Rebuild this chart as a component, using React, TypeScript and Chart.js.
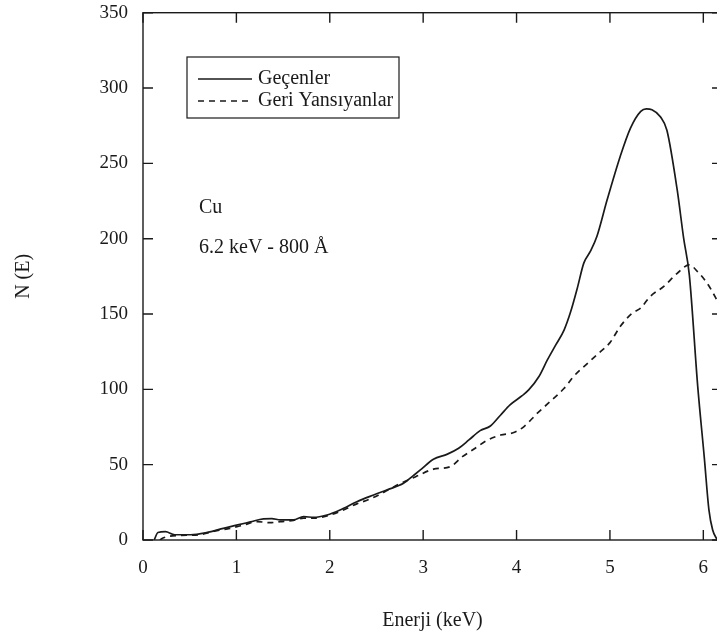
import React, { useEffect, useRef } from "react";
import { Chart, registerables } from "chart.js";

Chart.register(...registerables);

// ---- data ----
const X_TICKS = [0, 1, 2, 3, 4, 5, 6];
const Y_TICKS = [0, 50, 100, 150, 200, 250, 300, 350];
const SERIES_NAMES = ["Geçenler", "Geri Yansıyanlar"];
const X_TITLE = "Enerji (keV)";
const Y_TITLE = "N (E)";
const NOTES = ["Cu", "6.2 keV - 800 Å"];

const GECENLER_E = [
  0.12, 0.16, 0.24, 0.34, 0.51, 0.68, 0.86, 0.99, 1.15, 1.29, 1.38, 1.47, 1.61,
  1.72, 1.83, 1.97, 2.11, 2.29, 2.47, 2.61, 2.79, 2.9, 2.97, 3.11, 3.26, 3.38,
  3.49, 3.61, 3.72, 3.83, 3.93, 4.06, 4.13, 4.24, 4.33, 4.42, 4.51, 4.58, 4.65,
  4.72, 4.79, 4.86, 4.97, 5.11, 5.22, 5.33, 5.39, 5.45, 5.54, 5.61, 5.72, 5.79,
  5.85, 5.94, 6.01, 6.06, 6.1, 6.15,
];
const GECENLER_N = [
  0, 5, 5.5, 3.5, 3.5, 4.9, 7.7, 9.7, 12, 14, 14.2, 13.3, 13.3,
  15.5, 15, 16.6, 19.9, 25.4, 29.9, 33.2, 37.6, 43, 46.5, 53.6, 57, 60.9,
  66.4, 72.6, 75.7, 83, 89.7, 95.8, 99.6, 108.5, 119.5, 129.5, 139.5, 151.6, 167,
  183.8, 191.5, 201.4, 225.8, 254.6, 273.4, 284.5, 286.2, 285.6, 281, 272, 232.5, 200,
  176, 102, 55, 20, 6.6, 0,
];

const GERI_E = [
  0.18, 0.22, 0.4, 0.6, 0.79, 0.93, 1.08, 1.22, 1.36, 1.47, 1.61, 1.72, 1.83,
  1.97, 2.11, 2.29, 2.43, 2.58, 2.74, 2.92, 3.11, 3.29, 3.42, 3.54, 3.68, 3.83,
  3.97, 4.08, 4.22, 4.36, 4.51, 4.61, 4.76, 4.88, 5.0, 5.11, 5.24, 5.33, 5.43,
  5.58, 5.72, 5.85, 5.94, 6.04, 6.13, 6.2,
];
const GERI_N = [
  0, 1.5, 3, 3.5, 6.2, 7.7, 10, 12.2, 11.5, 12.2, 13, 14.5, 14.5,
  16, 19, 24, 27.2, 31.7, 37, 42, 47, 48.7, 55.3, 60.2, 66, 69.7,
  71.3, 75.3, 84, 91.9, 100.7, 108.5, 117.3, 124, 131, 141.7, 150.6, 154, 161.6,
  168.5, 177, 182.6, 178, 170.5, 161, 152,
];

const FONT = "'Liberation Serif', 'Times New Roman', serif";
const INK = "#1a1a1a";

const framePlugin = {
  id: "frame",
  afterDatasetsDraw(chart: any) {
    const { ctx, chartArea } = chart;
    const { left, right, top, bottom } = chartArea;
    const xs = chart.scales.x;
    const ys = chart.scales.y;
    const tl = 10;
    ctx.save();
    ctx.strokeStyle = INK;
    ctx.lineWidth = 1.4;
    ctx.setLineDash([]);
    ctx.strokeRect(left, top, right - left, bottom - top);
    ctx.beginPath();
    X_TICKS.forEach((v) => {
      const px = xs.getPixelForValue(v);
      ctx.moveTo(px, bottom);
      ctx.lineTo(px, bottom - tl);
      ctx.moveTo(px, top);
      ctx.lineTo(px, top + tl);
    });
    Y_TICKS.forEach((v) => {
      const py = ys.getPixelForValue(v);
      ctx.moveTo(left, py);
      ctx.lineTo(left + tl, py);
      ctx.moveTo(right, py);
      ctx.lineTo(right - tl, py);
    });
    ctx.stroke();
    ctx.restore();
  },
  afterDraw(chart: any) {
    const { ctx, chartArea } = chart;
    const { left, top } = chartArea;
    ctx.save();
    // legend box
    const bx = left + 44;
    const by = top + 44.3;
    const bw = 212;
    const bh = 61;
    ctx.fillStyle = "#ffffff";
    ctx.fillRect(bx, by, bw, bh);
    ctx.strokeStyle = INK;
    ctx.lineWidth = 1.2;
    ctx.setLineDash([]);
    ctx.strokeRect(bx, by, bw, bh);
    ctx.font = `20px ${FONT}`;
    ctx.fillStyle = INK;
    ctx.textBaseline = "middle";
    ctx.textAlign = "left";
    chart.data.datasets.forEach((ds: any, i: number) => {
      const y = by + 22 + i * 22;
      ctx.beginPath();
      ctx.lineWidth = 1.3;
      ctx.setLineDash(ds.borderDash || []);
      ctx.moveTo(bx + 11, y);
      ctx.lineTo(bx + 65, y);
      ctx.stroke();
      ctx.setLineDash([]);
      ctx.fillText(ds.label, bx + 71, y);
    });
    // annotations
    ctx.fillText(NOTES[0], left + 56, top + 195.5);
    ctx.fillText(NOTES[1], left + 56, top + 235.5);
    ctx.restore();
  },
};

export default function App() {
  const ref = useRef<HTMLCanvasElement | null>(null);
  useEffect(() => {
    if (!ref.current) return;
    const chart = new Chart(ref.current, {
      type: "line",
      data: {
        datasets: [
          {
            label: SERIES_NAMES[0],
            data: GECENLER_E.map((e, i) => ({ x: e, y: GECENLER_N[i] })),
            borderColor: INK,
            borderWidth: 1.7,
            pointRadius: 0,
            cubicInterpolationMode: "monotone",
            fill: false,
          },
          {
            label: SERIES_NAMES[1],
            data: GERI_E.map((e, i) => ({ x: e, y: GERI_N[i] })),
            borderColor: INK,
            borderWidth: 1.7,
            borderDash: [6, 5],
            pointRadius: 0,
            cubicInterpolationMode: "monotone",
            fill: false,
          },
        ],
      },
      options: {
        animation: false,
        responsive: false,
        maintainAspectRatio: false,
        layout: { padding: { top: 12.7, right: 0, bottom: 0, left: 0 } },
        plugins: {
          legend: { display: false },
          tooltip: { enabled: false },
        },
        scales: {
          x: {
            type: "linear",
            min: 0,
            max: 6.2,
            afterBuildTicks: (s: any) => {
              s.ticks = X_TICKS.map((v) => ({ value: v }));
            },
            afterFit: (s: any) => {
              s.height = 99;
              s.paddingLeft = 0;
              s.paddingRight = 0;
            },
            grid: { display: false, drawTicks: false },
            border: { display: false },
            ticks: {
              padding: 17,
              color: INK,
              font: { family: FONT, size: 19 },
              maxRotation: 0,
            },
            title: {
              display: true,
              text: X_TITLE,
              color: INK,
              font: { family: FONT, size: 20 },
              padding: { top: 0, bottom: 6 },
            },
          },
          y: {
            type: "linear",
            min: 0,
            max: 350,
            afterBuildTicks: (s: any) => {
              s.ticks = Y_TICKS.map((v) => ({ value: v }));
            },
            afterFit: (s: any) => {
              s.width = 143;
              s.paddingTop = 0;
              s.paddingBottom = 0;
            },
            grid: { display: false, drawTicks: false },
            border: { display: false },
            ticks: {
              padding: 15,
              color: INK,
              font: { family: FONT, size: 19 },
            },
            title: {
              display: true,
              text: Y_TITLE,
              color: INK,
              font: { family: FONT, size: 20 },
              padding: { top: 12, bottom: 0 },
            },
          },
        },
      } as any,
      plugins: [framePlugin],
    });
    return () => chart.destroy();
  }, []);
  return (
    <div
      style={{
        position: "fixed",
        left: 0,
        top: 0,
        width: 717,
        height: 639,
        overflow: "hidden",
      }}
    >
      <canvas ref={ref} width={722} height={639} style={{ display: "block" }} />
    </div>
  );
}
